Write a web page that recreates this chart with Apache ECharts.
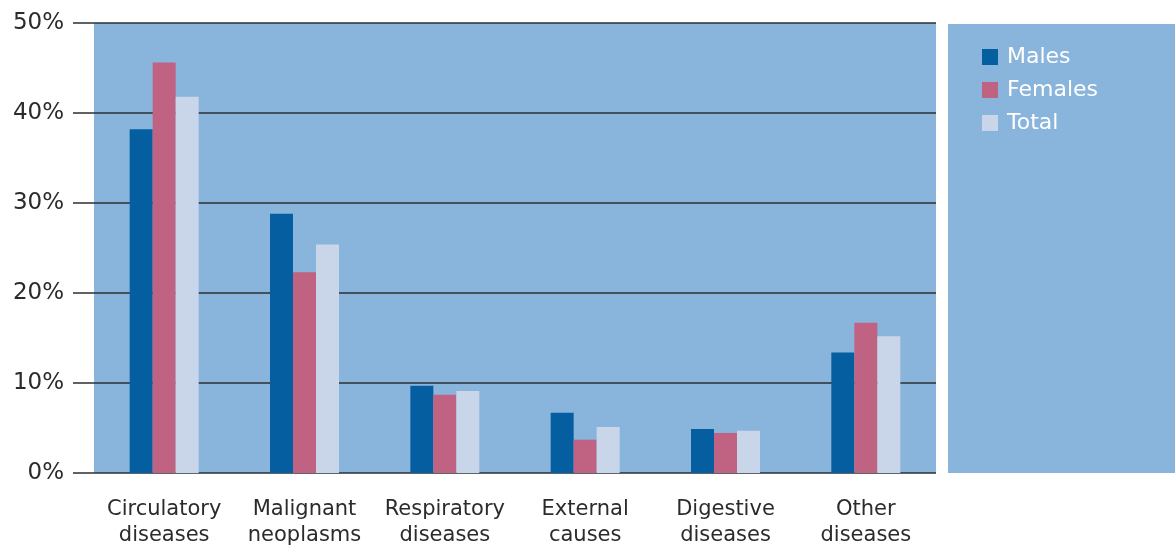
<!DOCTYPE html>
<html>
<head>
<meta charset="utf-8">
<script src="https://cdn.jsdelivr.net/npm/echarts@6/dist/echarts.min.js"></script>
<style>
html,body{margin:0;padding:0;background:#fff;}
#chart{width:1175px;height:546px;}
</style>
</head>
<body>
<div id="chart"></div>
<script>
const categories = ["Circulatory\ndiseases", "Malignant\nneoplasms", "Respiratory\ndiseases", "External\ncauses", "Digestive\ndiseases", "Other\ndiseases"];
const males   = [38.2, 28.8, 9.7, 6.7, 4.9, 13.4];
const females = [45.6, 22.3, 8.7, 3.7, 4.45, 16.7];
const total   = [41.8, 25.4, 9.1, 5.1, 4.7, 15.2];
const seriesNames = ["Males", "Females", "Total"];

const chart = echarts.init(document.getElementById('chart'));
const FONT = 'DejaVu Sans';
const BLUE_BG = '#89b5dd';
const colors = ['#045e9f', '#c06282', '#c9d6ea'];
const data = [males, females, total];

chart.setOption({
  animation: false,
  textStyle: { fontFamily: FONT },
  graphic: [{
    type: 'rect', z: 0,
    shape: { x: 948, y: 24, width: 227, height: 449 },
    style: { fill: BLUE_BG }
  }],
  grid: { left: 94, right: 239, top: 23, bottom: 73, show: true, backgroundColor: BLUE_BG, borderWidth: 0,
          containLabel: false, outerBoundsMode: 'none' },
  legend: {
    orient: 'vertical', left: 977, top: 41,
    itemWidth: 16, itemHeight: 16, itemGap: 11,
    icon: 'rect',
    textStyle: { color: '#ffffff', fontSize: 22, fontFamily: FONT, padding: [0,0,0,4] },
    data: seriesNames
  },
  xAxis: {
    type: 'category', data: categories,
    axisLine: { show: false }, axisTick: { show: false },
    axisLabel: { color: '#2b2b2b', fontSize: 21, lineHeight: 26, margin: 24, interval: 0, fontFamily: FONT }
  },
  yAxis: {
    type: 'value', min: 0, max: 50, interval: 10,
    axisLine: { show: false },
    axisTick: { show: true, length: 21, lineStyle: { color: '#2c3135', width: 1.5 } },
    splitLine: { show: true, lineStyle: { color: '#2c3135', width: 1.5 } },
    axisLabel: { formatter: '{value}%', color: '#2b2b2b', fontSize: 23, margin: 30, fontFamily: FONT }
  },
  series: seriesNames.map((n, i) => ({
    name: n, type: 'bar', data: data[i], barWidth: 23, barGap: '0%',
    itemStyle: { color: colors[i] }
  }))
});
</script>
</body>
</html>
